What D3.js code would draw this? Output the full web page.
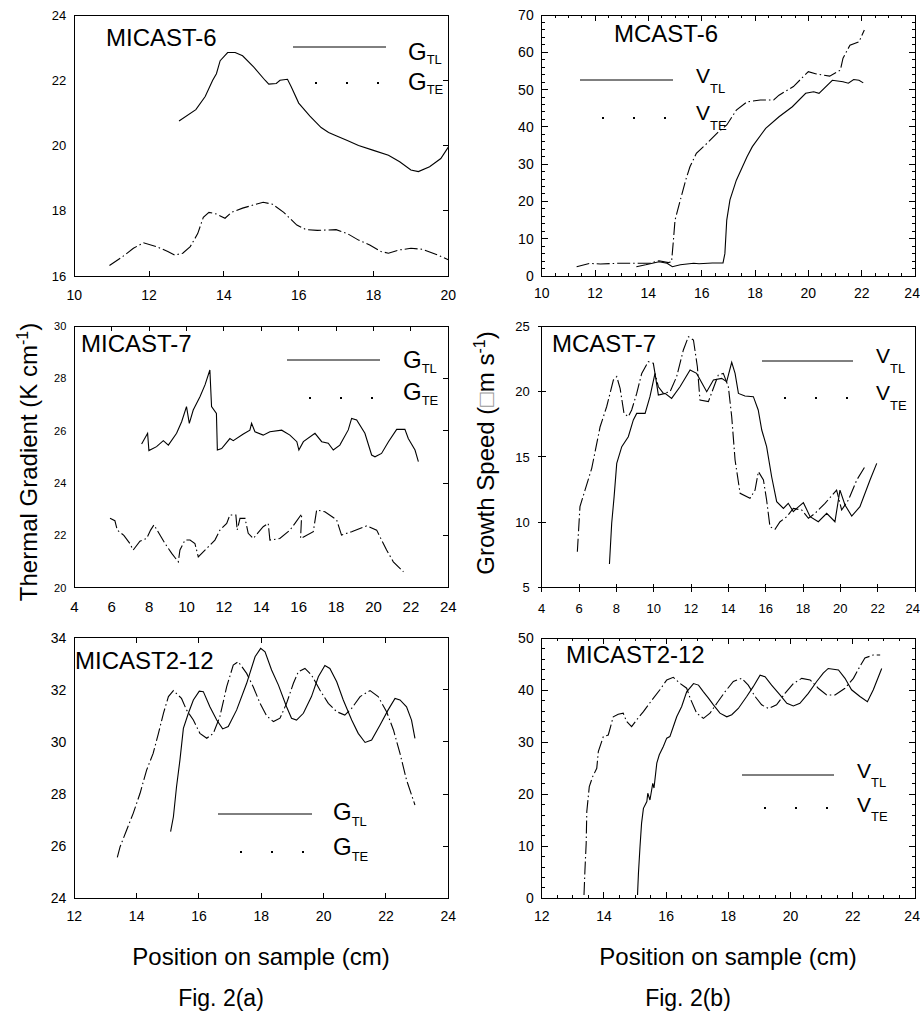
<!DOCTYPE html>
<html>
<head>
<meta charset="utf-8">
<script src="https://cdn.jsdelivr.net/npm/d3@7"></script>
<style>
  body { margin: 0; background: #fff; }
  text { font-family: "Liberation Sans", Arial, sans-serif; fill: #000; }
</style>
</head>
<body>
<svg id="chart" width="920" height="1020"></svg>
<script>
// ---- data: [position (cm), value] ----
const m6_GTL = [[12.8,20.75],[13.25,21.1],[13.5,21.5],[13.7,22.0],[13.8,22.2],[13.9,22.6],[14.1,22.85],[14.3,22.85],[14.5,22.75],[14.8,22.4],[15.1,22.0],[15.2,21.88],[15.4,21.9],[15.5,22.0],[15.7,22.03],[15.8,21.8],[16.0,21.3],[16.3,20.9],[16.6,20.55],[16.8,20.4],[17.0,20.3],[17.3,20.15],[17.6,20.0],[18.0,19.85],[18.4,19.7],[18.7,19.5],[19.0,19.25],[19.2,19.2],[19.5,19.35],[19.8,19.6],[20.0,19.95]];
const m6_GTE = [[10.94,16.32],[11.3,16.6],[11.58,16.85],[11.85,17.02],[12.2,16.9],[12.5,16.75],[12.69,16.64],[12.9,16.7],[13.1,16.9],[13.3,17.3],[13.45,17.8],[13.6,17.95],[13.8,17.9],[14.03,17.77],[14.2,17.95],[14.5,18.08],[14.8,18.18],[15.05,18.26],[15.3,18.2],[15.6,17.95],[15.95,17.56],[16.2,17.42],[16.5,17.4],[17.0,17.42],[17.3,17.3],[17.6,17.1],[17.9,16.95],[18.2,16.75],[18.4,16.7],[18.7,16.8],[19.0,16.85],[19.3,16.82],[19.7,16.65],[20.0,16.5]];

const m6_VTL = [[13.55,2.5],[13.9,3.0],[14.4,3.8],[14.7,3.4],[14.9,2.5],[15.2,3.0],[15.7,3.4],[15.9,3.3],[16.4,3.5],[16.8,3.5],[16.87,6],[16.94,15],[17.06,20.4],[17.3,25.7],[17.7,32],[17.9,34.7],[18.4,39.6],[18.9,42.7],[19.4,45.4],[19.9,49],[20.2,49.4],[20.4,49],[20.9,52.5],[21.3,52.1],[21.5,51.7],[21.7,52.7],[21.9,52.5],[22.06,51.8]];
const m6_VTE = [[11.31,2.5],[11.8,3.4],[12.2,3.2],[12.8,3.4],[13.56,3.4],[14.06,3.4],[14.4,4.1],[14.75,3.6],[14.87,3.8],[14.94,9.6],[15.0,15],[15.2,20.4],[15.4,25.7],[15.56,29.3],[15.8,32.9],[16.2,35.6],[16.56,38.2],[16.94,40.5],[17.3,44.5],[17.7,46.7],[18.2,47.2],[18.7,47.2],[18.9,48.5],[19.44,50.8],[19.8,53.4],[20.0,54.8],[20.3,54.2],[20.8,53.6],[21.2,55.2],[21.3,58.4],[21.56,61.9],[21.9,62.8],[22.1,66]];

const m7_GTL = [[7.6,25.49],[7.92,25.9],[7.99,25.24],[8.4,25.39],[8.76,25.62],[9.03,25.45],[9.47,25.9],[9.74,26.34],[10.0,26.92],[10.15,26.28],[10.36,26.79],[10.72,27.3],[10.99,27.75],[11.25,28.32],[11.34,26.92],[11.6,26.66],[11.65,25.26],[11.88,25.32],[12.32,25.7],[12.5,25.62],[13.04,25.87],[13.39,26.02],[13.48,26.28],[13.66,25.96],[14.1,25.83],[14.46,25.96],[15.09,26.02],[15.53,25.83],[15.9,25.58],[16.01,25.26],[16.25,25.58],[16.87,25.9],[17.23,25.58],[17.58,25.52],[17.85,25.26],[18.2,25.45],[18.65,26.03],[18.83,26.47],[19.1,26.41],[19.54,25.9],[19.9,25.07],[20.08,25.0],[20.43,25.13],[20.8,25.58],[21.24,26.05],[21.68,26.05],[21.86,25.7],[22.22,25.26],[22.4,24.82]];
const m7_GTE = [[5.91,22.65],[6.17,22.56],[6.3,22.2],[6.65,22.0],[6.97,21.69],[7.15,21.44],[7.51,21.78],[7.87,21.88],[8.08,22.2],[8.26,22.4],[8.55,22.05],[8.85,21.69],[9.21,21.31],[9.56,20.99],[9.65,21.44],[9.92,21.82],[10.19,21.82],[10.45,21.69],[10.63,21.18],[11.08,21.5],[11.52,21.82],[11.79,22.2],[12.15,22.46],[12.32,22.78],[12.64,22.78],[12.71,22.2],[12.86,22.65],[13.13,22.65],[13.3,22.08],[13.57,21.88],[14.1,22.33],[14.37,22.46],[14.46,21.82],[14.99,21.88],[15.53,22.2],[15.8,22.46],[16.16,22.82],[16.1,21.88],[16.78,22.14],[16.96,22.97],[17.4,22.9],[18.03,22.59],[18.29,22.01],[18.83,22.14],[19.63,22.36],[20.17,22.2],[20.7,21.44],[21.06,20.99],[21.6,20.61]];

const m7_VTL = [[7.63,6.81],[7.75,9.92],[7.88,11.96],[8.02,14.5],[8.29,15.78],[8.64,16.54],[8.91,17.82],[9.09,18.32],[9.54,18.32],[9.8,19.6],[10.07,21.38],[10.25,19.73],[10.61,19.85],[10.96,19.47],[11.41,20.36],[11.95,21.64],[12.3,21.38],[12.84,19.98],[13.2,20.87],[13.64,21.0],[13.91,20.75],[14.18,22.22],[14.36,21.38],[14.54,19.85],[14.89,19.65],[15.34,19.6],[15.6,18.58],[15.79,17.05],[16.05,15.78],[16.32,13.48],[16.59,11.57],[16.95,11.06],[17.21,11.45],[17.48,10.81],[17.66,11.06],[18.02,11.5],[18.38,10.43],[18.82,10.04],[19.27,10.68],[19.71,10.04],[19.98,12.46],[20.25,11.32],[20.61,10.48],[21.05,11.19],[21.59,13.23],[21.95,14.5]];
const m7_VTE = [[5.91,7.75],[6.05,11.19],[6.32,12.46],[6.68,14.12],[7.13,17.3],[7.48,18.83],[7.84,20.87],[8.02,21.13],[8.2,20.24],[8.41,18.32],[8.64,18.07],[8.82,18.58],[9.09,19.85],[9.36,21.38],[9.71,22.27],[9.98,22.15],[10.07,21.38],[10.25,20.36],[10.52,19.85],[10.88,19.98],[11.23,21.13],[11.59,23.17],[11.86,24.18],[12.13,23.93],[12.34,21.89],[12.48,19.34],[12.93,19.22],[13.46,21.25],[13.73,21.38],[14.0,20.36],[14.18,18.07],[14.36,14.76],[14.63,12.21],[15.16,11.83],[15.43,12.46],[15.61,13.87],[15.88,13.23],[16.05,11.7],[16.23,9.66],[16.5,9.46],[16.77,10.04],[17.13,10.43],[17.48,11.06],[17.93,10.94],[18.29,10.3],[18.64,10.68],[19.18,11.45],[19.8,12.46],[20.07,10.94],[20.43,11.7],[20.88,13.23],[21.32,14.25]];

const m12_GTL = [[15.09,26.56],[15.18,27.13],[15.28,28.28],[15.39,29.31],[15.5,30.52],[15.66,31.1],[15.82,31.61],[16.01,31.95],[16.14,31.93],[16.35,31.35],[16.57,30.84],[16.76,30.5],[16.94,30.59],[17.21,31.23],[17.53,32.25],[17.8,33.27],[17.98,33.59],[18.12,33.46],[18.33,32.76],[18.55,32.18],[18.81,31.35],[18.97,30.91],[19.13,30.84],[19.35,31.1],[19.61,31.74],[19.83,32.5],[20.04,32.93],[20.2,32.82],[20.42,32.31],[20.63,31.61],[20.9,30.84],[21.11,30.33],[21.33,29.98],[21.54,30.07],[21.81,30.65],[22.07,31.23],[22.29,31.67],[22.45,31.61],[22.66,31.35],[22.82,30.84],[22.93,30.14]];
const m12_GTE = [[13.38,25.57],[13.47,25.98],[13.68,26.62],[13.89,27.26],[14.11,28.03],[14.32,28.92],[14.53,29.56],[14.7,30.33],[14.86,31.1],[15.02,31.74],[15.18,31.97],[15.44,31.67],[15.6,31.23],[15.82,30.84],[16.03,30.33],[16.25,30.14],[16.46,30.33],[16.67,30.97],[16.89,32.12],[17.1,32.95],[17.26,33.08],[17.53,32.63],[17.74,32.12],[17.96,31.48],[18.17,31.0],[18.39,30.78],[18.6,30.91],[18.81,31.48],[19.03,32.25],[19.19,32.7],[19.4,32.82],[19.61,32.57],[19.88,31.99],[20.15,31.48],[20.42,31.16],[20.68,31.03],[20.9,31.29],[21.17,31.74],[21.49,31.97],[21.75,31.74],[22.02,31.16],[22.24,30.46],[22.45,29.56],[22.66,28.54],[22.93,27.58]];

const m12_VTL = [[15.08,0.64],[15.11,4.8],[15.16,9.9],[15.21,14.4],[15.27,17.3],[15.38,18.6],[15.41,20.2],[15.48,18.9],[15.57,22.1],[15.61,21.2],[15.7,26],[15.78,27.6],[15.91,29.2],[16.02,30.8],[16.12,31.1],[16.23,33],[16.34,34.9],[16.5,36.9],[16.66,39.7],[16.88,41.3],[17.04,41],[17.2,39.7],[17.36,38.5],[17.52,37.2],[17.73,35.6],[17.95,34.9],[18.11,35.3],[18.32,36.5],[18.59,38.8],[18.8,40.7],[19.02,42.9],[19.18,42.6],[19.39,41],[19.66,39.1],[19.88,37.5],[20.09,37],[20.3,37.5],[20.57,39.4],[20.84,41.7],[21.05,43.3],[21.21,44.2],[21.54,43.9],[21.75,42.3],[21.96,40.1],[22.23,38.8],[22.47,37.8],[22.66,40.1],[22.93,44.2]];
const m12_VTE = [[13.36,0.64],[13.39,5.4],[13.43,10.6],[13.45,16.7],[13.53,21.5],[13.64,23.4],[13.77,25],[13.82,28.2],[13.98,31.1],[14.14,31.4],[14.3,34.9],[14.46,35.4],[14.62,35.6],[14.73,34],[14.89,33],[15.05,34.3],[15.27,35.9],[15.54,38.1],[15.8,40.1],[16.02,42],[16.23,42.5],[16.45,41.3],[16.66,40.4],[16.77,38.5],[16.98,35.6],[17.2,34.6],[17.41,35.6],[17.63,37.5],[17.89,39.7],[18.16,41.7],[18.43,42.3],[18.64,41],[18.86,38.8],[19.07,37.2],[19.29,36.5],[19.55,37.2],[19.82,39.4],[20.09,41.3],[20.36,42.3],[20.63,42],[20.89,40.4],[21.16,39.1],[21.43,39.1],[21.75,40.4],[22.02,42.3],[22.23,44.6],[22.39,46.2],[22.66,46.8],[22.88,46.8]];

// tick values
const xTicks6a = [10, 12, 14, 16, 18, 20];
const xTicksWide = [10, 12, 14, 16, 18, 20, 22, 24];
const xTicks7 = [4, 6, 8, 10, 12, 14, 16, 18, 20, 22, 24];
const xTicks12 = [12, 14, 16, 18, 20, 22, 24];
const yTicks6a = [16, 18, 20, 22, 24];
const yTicks6b = [0, 10, 20, 30, 40, 50, 60, 70];
const yTicks7a = [20, 22, 24, 26, 28, 30];
const yTicks7b = [5, 10, 15, 20, 25];
const yTicks12a = [24, 26, 28, 30, 32, 34];
const yTicks12b = [0, 10, 20, 30, 40, 50];

const svg = d3.select("#chart");
const dashTE = "13,3,1.5,3";

// layout of the six panels
const panels = [
  { box: [74.3, 448.3, 15, 276], xd: [10, 20], yd: [16, 24], xt: xTicks6a, yt: yTicks6a,
    xFont: 14, yFont: 13, xLabY: 300, ticks: { bottom: "in", right: "in" },
    title: { text: "MICAST-6", x: 106, y: 46 }, solid: m6_GTL, dashed: m6_GTE,
    leg: { sym: "G", size: 24, lx1: 293, lx2: 386, lx: 408, r1: [47, 60], r2: [83, 90], subDy: 4 } },
  { box: [541.7, 915, 15, 276], xd: [10, 24], yd: [0, 70], xt: xTicksWide, yt: yTicks6b,
    xFont: 14, yFont: 14, xLabY: 298, ticks: { all: true, xMinor: 0.5, yMinor: 2 },
    title: { text: "MCAST-6", x: 614, y: 42 }, solid: m6_VTL, dashed: m6_VTE,
    leg: { sym: "V", size: 21, lx1: 580, lx2: 673, lx: 696, r1: [80, 83], r2: [118, 120], subDy: 10 } },
  { box: [74.3, 448.3, 326, 587.7], xd: [4, 24], yd: [20, 30], xt: xTicks7, yt: yTicks7a,
    xFont: 15, yFont: 11, xLabY: 612, ticks: { top: "in", right: "in" },
    title: { text: "MICAST-7", x: 81, y: 352 }, solid: m7_GTL, dashed: m7_GTE,
    leg: { sym: "G", size: 24, lx1: 287, lx2: 380, lx: 403, r1: [360, 368], r2: [398, 400], subDy: 5 } },
  { box: [541.7, 915, 326, 587.7], xd: [4, 24], yd: [5, 25], xt: xTicks7, yt: yTicks7b,
    xFont: 13, yFont: 13, xLabY: 613, ticks: { bottom: "cross", left: "cross" },
    title: { text: "MCAST-7", x: 552, y: 352 }, solid: m7_VTL, dashed: m7_VTE,
    leg: { sym: "V", size: 21, lx1: 762, lx2: 853, lx: 876, r1: [361, 363], r2: [398, 400], subDy: 10 } },
  { box: [74.3, 448.3, 637.7, 898.3], xd: [12, 24], yd: [24, 34], xt: xTicks12, yt: yTicks12a,
    xFont: 14, yFont: 14, xLabY: 921, ticks: { top: "in", right: "in", bottom: "in" },
    title: { text: "MICAST2-12", x: 75, y: 669 }, solid: m12_GTL, dashed: m12_GTE,
    leg: { sym: "G", size: 24, lx1: 218, lx2: 312, lx: 333, r1: [814, 820], r2: [852, 855], subDy: 6 } },
  { box: [541.7, 915, 638.3, 898.3], xd: [12, 24], yd: [0, 50], xt: xTicks12, yt: yTicks12b,
    xFont: 14, yFont: 14, xLabY: 921, ticks: { all: true, xMinor: 0.5, yMinor: 2 },
    title: { text: "MICAST2-12", x: 566, y: 663 }, solid: m12_VTL, dashed: m12_VTE,
    leg: { sym: "V", size: 21, lx1: 742, lx2: 834, lx: 857, r1: [775, 778], r2: [808, 812], subDy: 9 } }
];

function drawTicks(g, x, y, p) {
  const [L, R, T, B] = p.box;
  const t = p.ticks;
  const seg = (x1, y1, x2, y2) => g.append("line").attr("x1", x1).attr("y1", y1)
    .attr("x2", x2).attr("y2", y2).attr("stroke", "#000").attr("stroke-width", 1)
    .attr("shape-rendering", "crispEdges");
  const inner = v => v > p.xd[0] && v < p.xd[1];
  const innerY = v => v > p.yd[0] && v < p.yd[1];

  if (t.all) {
    // major + minor ticks on every side, pointing inward
    d3.range(p.xd[0], p.xd[1] + 1e-6, t.xMinor).forEach(v => {
      const len = (Math.abs(v % 2) < 1e-6) ? 6 : 3;
      seg(x(v), B, x(v), B - len);
      seg(x(v), T, x(v), T + len);
    });
    d3.range(p.yd[0], p.yd[1] + 1e-6, t.yMinor).forEach(v => {
      const len = (Math.abs(v % 10) < 1e-6) ? 6 : 3;
      seg(L, y(v), L + len, y(v));
      seg(R, y(v), R - len, y(v));
    });
    return;
  }
  p.xt.filter(inner).forEach(v => {
    if (t.bottom === "in") seg(x(v), B, x(v), B - 5);
    if (t.bottom === "cross") seg(x(v), B + 4, x(v), B - 4);
    if (t.top === "in") seg(x(v), T, x(v), T + 5);
  });
  if (t.bottom === "cross") p.xt.forEach(v => seg(x(v), B, x(v), B + 4));
  p.yt.filter(innerY).forEach(v => {
    if (t.right === "in") seg(R, y(v), R - 5, y(v));
  });
  if (t.left === "cross") p.yt.forEach(v => seg(L - 4, y(v), L + 4, y(v)));
}

function legendLabel(g, leg, baseline, sub) {
  const txt = g.append("text").attr("x", leg.lx).attr("y", baseline)
    .style("font-size", leg.size + "px");
  txt.append("tspan").text(leg.sym);
  txt.append("tspan").attr("dy", leg.subDy).style("font-size", "13px").text(sub);
}

panels.forEach(p => {
  const [L, R, T, B] = p.box;
  const x = d3.scaleLinear().domain(p.xd).range([L, R]);
  const y = d3.scaleLinear().domain(p.yd).range([B, T]);
  const g = svg.append("g");

  // frame
  g.append("rect").attr("x", L).attr("y", T).attr("width", R - L).attr("height", B - T)
    .attr("fill", "none").attr("stroke", "#000").attr("stroke-width", 1)
    .attr("shape-rendering", "crispEdges");

  drawTicks(g, x, y, p);

  // tick labels (the last one on the right column would spill past the page, so pin it to the edge)
  const yOff = p.ticks.left === "cross" ? 12 : 8;
  g.selectAll(".yl").data(p.yt).enter().append("text")
    .attr("x", L - yOff).attr("y", d => y(d)).attr("dy", "0.36em")
    .attr("text-anchor", "end").style("font-size", p.yFont + "px").text(d => d);
  g.selectAll(".xl").data(p.xt).enter().append("text")
    .attr("x", d => Math.min(x(d), 920 - p.xFont * 0.56))
    .attr("y", p.xLabY)
    .attr("text-anchor", "middle").style("font-size", p.xFont + "px").text(d => d);

  // curves
  const line = d3.line().x(d => x(d[0])).y(d => y(d[1]));
  g.append("path").datum(p.solid).attr("d", line)
    .attr("fill", "none").attr("stroke", "#000").attr("stroke-width", 1.1);
  g.append("path").datum(p.dashed).attr("d", line)
    .attr("fill", "none").attr("stroke", "#000").attr("stroke-width", 1.1)
    .attr("stroke-dasharray", dashTE);

  // panel title
  g.append("text").attr("x", p.title.x).attr("y", p.title.y)
    .style("font-size", "24px").text(p.title.text);

  // legend
  const lg = p.leg;
  g.append("line").attr("x1", lg.lx1).attr("x2", lg.lx2).attr("y1", lg.r1[0]).attr("y2", lg.r1[0])
    .attr("stroke", "#000").attr("stroke-width", 1);
  legendLabel(g, lg, lg.r1[1], "TL");
  [0, 1, 2].forEach(i => {
    g.append("rect").attr("x", lg.lx1 + 22 + i * 31).attr("y", lg.r2[0] - 1)
      .attr("width", 2).attr("height", 2).attr("fill", "#000");
  });
  legendLabel(g, lg, lg.r2[1], "TE");
});

// axis titles
const yTitleA = svg.append("text").attr("transform", "translate(37,462) rotate(-90)")
  .attr("text-anchor", "middle").style("font-size", "24px");
yTitleA.append("tspan").text("Thermal Gradient (K cm");
yTitleA.append("tspan").attr("dy", -9).style("font-size", "16px").text("-1");
yTitleA.append("tspan").attr("dy", 9).text(")");

const yTitleB = svg.append("text").attr("transform", "translate(494,453) rotate(-90)")
  .attr("text-anchor", "middle").style("font-size", "24px");
yTitleB.append("tspan").text("Growth Speed (");
yTitleB.append("tspan").style("fill", "#999").text("\u25A1");
yTitleB.append("tspan").text("m s");
yTitleB.append("tspan").attr("dy", -9).style("font-size", "16px").text("-1");
yTitleB.append("tspan").attr("dy", 9).text(")");

const bottomLabels = [
  { x: 261, text: "Position on sample (cm)", y: 965, size: 24 },
  { x: 728, text: "Position on sample (cm)", y: 965, size: 24 },
  { x: 221, text: "Fig. 2(a)", y: 1006, size: 23 },
  { x: 688, text: "Fig. 2(b)", y: 1006, size: 23 }
];
svg.selectAll(".bl").data(bottomLabels).enter().append("text")
  .attr("x", d => d.x).attr("y", d => d.y).attr("text-anchor", "middle")
  .style("font-size", d => d.size + "px").text(d => d.text);
</script>
</body>
</html>
